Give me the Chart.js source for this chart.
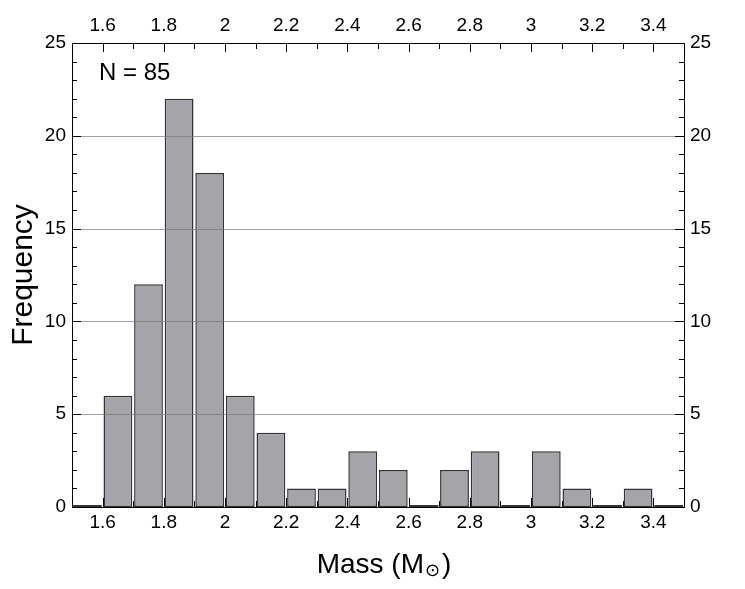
<!DOCTYPE html>
<html>
<head>
<meta charset="utf-8">
<script src="https://cdn.jsdelivr.net/npm/chart.js@4"></script>
<style>
  html, body { margin: 0; padding: 0; background: #fff; }
  #wrap { width: 745px; height: 589px; position: relative; }
</style>
</head>
<body>
<div id="wrap"><canvas id="massChart"></canvas></div>
<script>
"use strict";

// histogram bins (centre of each 0.1 wide bin) and counts
const binCenters = [1.55, 1.65, 1.75, 1.85, 1.95, 2.05, 2.15, 2.25, 2.35, 2.45,
                    2.55, 2.65, 2.75, 2.85, 2.95, 3.05, 3.15, 3.25, 3.35, 3.45];
const counts = [0, 6, 12, 22, 18, 6, 4, 1, 1, 3,
                2, 0, 2, 3, 0, 3, 1, 0, 1, 0];
const xTicks = [1.6, 1.8, 2.0, 2.2, 2.4, 2.6, 2.8, 3.0, 3.2, 3.4];
const yTicks = [0, 5, 10, 15, 20, 25];
const sampleLabel = "N = 85";

const FONT = "'Liberation Sans', Arial, sans-serif";
const fmt = (v) => String(+Number(v).toFixed(1));

// inward ticks, grid on top of bars, titles
const framePlugin = {
  id: "frame",
  afterDatasetsDraw(chart) {
    const { ctx, chartArea: a } = chart;
    const y = chart.scales.y;
    ctx.save();
    ctx.strokeStyle = "rgba(120,120,120,0.7)";
    ctx.lineWidth = 1;
    yTicks.forEach((v) => {
      if (v === 0 || v === 25) return;
      const py = Math.round(y.getPixelForValue(v)) + 0.5;
      ctx.beginPath();
      ctx.moveTo(a.left, py);
      ctx.lineTo(a.right, py);
      ctx.stroke();
    });
    ctx.restore();
  },
  afterDraw(chart) {
    const { ctx, chartArea: a } = chart;
    const x = chart.scales.x;
    const y = chart.scales.y;
    ctx.save();
    ctx.strokeStyle = "#000";
    ctx.lineWidth = 1;
    ctx.beginPath();
    for (let i = 16; i <= 34; i++) {
      const px = Math.round(x.getPixelForValue(i / 10)) + 0.5;
      const len = i % 2 === 0 ? 9 : 6;
      ctx.moveTo(px, a.bottom); ctx.lineTo(px, a.bottom - len);
      ctx.moveTo(px, a.top); ctx.lineTo(px, a.top + len);
    }
    for (let v = 1; v < 25; v++) {
      const py = Math.round(y.getPixelForValue(v)) + 0.5;
      const len = v % 5 === 0 ? 9 : 5;
      ctx.moveTo(a.left, py); ctx.lineTo(a.left + len, py);
      ctx.moveTo(a.right, py); ctx.lineTo(a.right - len, py);
    }
    ctx.stroke();

    ctx.fillStyle = "#000";
    ctx.font = "24px " + FONT;
    ctx.textAlign = "left";
    ctx.textBaseline = "middle";
    ctx.fillText(sampleLabel, 99, 73);

    // x title with small sun symbol
    const big = "28px " + FONT;
    const small = "18px 'DejaVu Sans', sans-serif";
    const p1 = "Mass (M", p2 = "\u2299", p3 = ")";
    ctx.font = big; const w1 = ctx.measureText(p1).width; const w3 = ctx.measureText(p3).width;
    ctx.font = small; const w2 = ctx.measureText(p2).width;
    let sx = 384 - (w1 + w2 + w3 + 3) / 2;
    const by = 573;
    ctx.textBaseline = "alphabetic";
    ctx.font = big; ctx.fillText(p1, sx, by); sx += w1;
    ctx.font = small; ctx.fillText(p2, sx + 1, by + 3); sx += w2 + 3;
    ctx.font = big; ctx.fillText(p3, sx, by);

    ctx.translate(24, (a.top + a.bottom) / 2);
    ctx.rotate(-Math.PI / 2);
    ctx.font = "30px " + FONT;
    ctx.textAlign = "center";
    ctx.textBaseline = "middle";
    ctx.fillText("Frequency", 0, 0);
    ctx.restore();
  },
};

const tickFont = { family: FONT, size: 19 };

new Chart(document.getElementById("massChart"), {
  type: "bar",
  data: {
    datasets: [
      {
        data: binCenters.map((c, i) => ({ x: c, y: counts[i] })),
        backgroundColor: (ctx) => (counts[ctx.dataIndex] === 0 ? "#333" : "#a5a4a9"),
        borderColor: "#333",
        borderWidth: (ctx) => (counts[ctx.dataIndex] === 0 ? 0 : 1.5),
        borderSkipped: false,
        minBarLength: 2,
        barPercentage: 0.94,
        categoryPercentage: 1.0,
      },
    ],
  },
  options: {
    responsive: true,
    maintainAspectRatio: false,
    animation: false,
    layout: { padding: 0 },
    plugins: { legend: { display: false }, tooltip: { enabled: false } },
    scales: {
      x: {
        type: "linear",
        position: "bottom",
        min: 1.5,
        max: 3.5,
        offset: false,
        afterBuildTicks: (s) => { s.ticks = xTicks.map((v) => ({ value: v })); },
        afterFit: (s) => { s.height = 82; },
        ticks: { font: tickFont, color: "#000", padding: 4, maxRotation: 0, callback: fmt },
        grid: { display: false, drawTicks: false },
        border: { color: "#000", width: 1 },
      },
      x2: {
        type: "linear",
        position: "top",
        min: 1.5,
        max: 3.5,
        offset: false,
        afterBuildTicks: (s) => { s.ticks = xTicks.map((v) => ({ value: v })); },
        afterFit: (s) => { s.height = 43; },
        ticks: { font: tickFont, color: "#000", padding: 6, maxRotation: 0, callback: fmt },
        grid: { display: false, drawTicks: false },
        border: { color: "#000", width: 1 },
      },
      y: {
        position: "left",
        min: 0,
        max: 25,
        afterBuildTicks: (s) => { s.ticks = yTicks.map((v) => ({ value: v })); },
        afterFit: (s) => { s.width = 72; },
        ticks: { font: tickFont, color: "#000", padding: 6 },
        grid: { display: false, drawTicks: false },
        border: { color: "#000", width: 1 },
      },
      y2: {
        position: "right",
        min: 0,
        max: 25,
        afterBuildTicks: (s) => { s.ticks = yTicks.map((v) => ({ value: v })); },
        afterFit: (s) => { s.width = 61; },
        ticks: { font: tickFont, color: "#000", padding: 6 },
        grid: { display: false, drawTicks: false },
        border: { color: "#000", width: 1 },
      },
    },
  },
  plugins: [framePlugin],
});
</script>
</body>
</html>
